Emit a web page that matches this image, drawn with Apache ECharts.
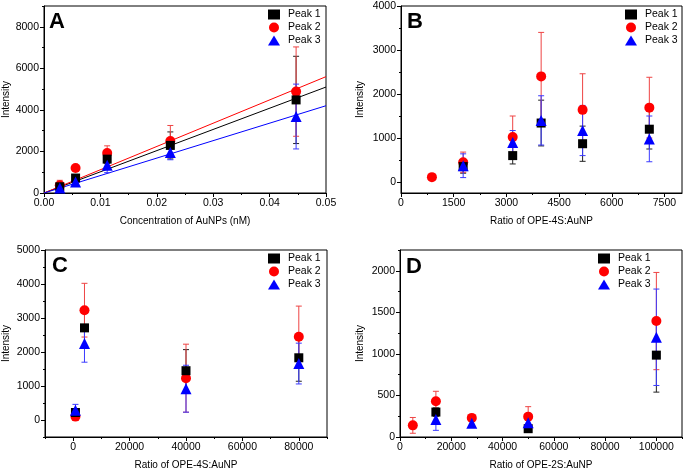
<!DOCTYPE html>
<html>
<head>
<meta charset="utf-8">
<script src="https://cdn.jsdelivr.net/npm/echarts@6/dist/echarts.min.js"></script>
<style>
html,body{margin:0;padding:0;background:#fff;}
#chart{width:685px;height:471px;}
</style>
</head>
<body>
<div id="chart"></div>
<script>
// ---------- DATA ----------
const peakNames = ['Peak 1', 'Peak 2', 'Peak 3'];

// Panel A: concentration of AuNPs (nM)
const aConc = [0.0028, 0.0056, 0.0112, 0.0224, 0.0447];
const aPeak1 = [300, 720, 1630, 2290, 4480];
const aPeak1Err = [150, 100, 220, 650, 2100];
const aPeak2 = [370, 1200, 1920, 2500, 4880];
const aPeak2Err = [240, 80, 350, 750, 2150];
const aPeak3 = [240, 530, 1330, 1950, 3680];
const aPeak3Err = [120, 130, 350, 350, 1560];
const aFitX = [0, 0.05];
const aFit1 = [0, 5100];
const aFit2 = [0, 5600];
const aFit3 = [0, 4200];

// Panel B: ratio of OPE-4S:AuNP (low range)
const bRatio = [880, 1770, 3180, 3990, 5170, 7070];
const bPeak1 = [null, 350, 600, 1340, 870, 1200];
const bPeak1Err = [null, 150, 190, 520, 400, 450];
const bPeak2 = [110, 450, 1020, 2400, 1640, 1690];
const bPeak2Err = [0, 230, 480, 1000, 820, 690];
const bPeak3 = [null, 370, 900, 1400, 1170, 980];
const bPeak3Err = [null, 270, 270, 560, 570, 520];

// Panel C: ratio of OPE-4S:AuNP (high range)
const cRatio = [800, 4000, 40000, 80000];
const cPeak1 = [220, 2710, 1450, 1830];
const cPeak1Err = [100, 580, 620, 690];
const cPeak2 = [100, 3230, 1230, 2450];
const cPeak2Err = [60, 790, 1000, 900];
const cPeak3 = [290, 2250, 920, 1660];
const cPeak3Err = [170, 550, 690, 600];

// Panel D: ratio of OPE-2S:AuNP
const dRatio = [5000, 14000, 28000, 50000, 100000];
const dPeak1 = [null, 300, null, 100, 985];
const dPeak1Err = [null, 50, null, 40, 445];
const dPeak2 = [140, 430, 230, 245, 1395];
const dPeak2Err = [95, 120, 20, 120, 585];
const dPeak3 = [null, 210, 165, 170, 1200];
const dPeak3Err = [null, 130, 50, 70, 580];

// Tick labels
const aXLabels = [0, 0.01, 0.02, 0.03, 0.04, 0.05];
const aYLabels = [0, 2000, 4000, 6000, 8000];
const bXLabels = [0, 1500, 3000, 4500, 6000, 7500];
const bYLabels = [0, 1000, 2000, 3000, 4000];
const cXLabels = [0, 20000, 40000, 60000, 80000];
const cYLabels = [0, 1000, 2000, 3000, 4000, 5000];
const dXLabels = [0, 20000, 40000, 60000, 80000, 100000];
const dYLabels = [0, 500, 1000, 1500, 2000];

// ---------- STYLE / HELPERS ----------
const FONT = 'Liberation Sans, Arial, sans-serif';
const colors = ['#000000', '#ff0000', '#0000ff'];
const errColors = ['#222222', '#ee4444', '#3a3aff'];
const symbols = ['rect', 'circle', 'triangle'];
const symSizes = [9, 10, 11];
const zOrder = [4, 3, 5];

function minorsOf(min, max, step) {
  const out = [];
  const start = Math.ceil(min / step - 1e-9);
  for (let k = start; k * step <= max + 1e-9; k++) out.push(+(k * step).toFixed(6));
  return out;
}

function makeAxes(dim, gridIndex, min, max, labels, minorStep, name, nameGap, fmt) {
  const main = {
    type: 'value', gridIndex, min, max,
    position: dim === 'x' ? 'bottom' : 'left',
    name, nameLocation: 'middle', nameGap,
    nameTextStyle: {fontFamily: FONT, fontSize: 10, color: '#000'},
    axisLine: {show: true, onZero: false, lineStyle: {color: '#000', width: 1}},
    axisTick: {show: true, length: 4, customValues: labels, lineStyle: {color: '#000'}},
    axisLabel: {show: true, customValues: labels, margin: 5, fontFamily: FONT, fontSize: 10.5, color: '#000',
      formatter: fmt || (v => String(v))},
    splitLine: {show: false}
  };
  const minor = {
    type: 'value', gridIndex, min, max,
    position: dim === 'x' ? 'bottom' : 'left',
    axisLine: {show: false, onZero: false},
    axisTick: {show: true, length: 2, customValues: minorsOf(min, max, minorStep), lineStyle: {color: '#000'}},
    axisLabel: {show: false},
    splitLine: {show: false}
  };
  return [main, minor];
}

function zip(xs, ys) {
  const out = [];
  xs.forEach((x, i) => { if (ys[i] !== null && ys[i] !== undefined) out.push([x, ys[i]]); });
  return out;
}
function zip3(xs, ys, es) {
  const out = [];
  xs.forEach((x, i) => { if (ys[i] !== null && es[i] !== null && es[i] > 0) out.push([x, ys[i], es[i]]); });
  return out;
}

function errRender(params, api) {
  const x = api.value(0), y = api.value(1), e = api.value(2);
  const hi = api.coord([x, y + e]);
  const lo = api.coord([x, y - e]);
  const w = 3;
  const style = {stroke: api.visual('color'), lineWidth: 1};
  return {
    type: 'group',
    children: [
      {type: 'line', shape: {x1: hi[0], y1: hi[1], x2: lo[0], y2: lo[1]}, style},
      {type: 'line', shape: {x1: hi[0] - w, y1: hi[1], x2: hi[0] + w, y2: hi[1]}, style},
      {type: 'line', shape: {x1: lo[0] - w, y1: lo[1], x2: lo[0] + w, y2: lo[1]}, style}
    ]
  };
}

const xAxes = [], yAxes = [], series = [];

function addPanel(p, xs, ys, errs) {
  const xi = 2 * p, yi = 2 * p;
  for (let s = 0; s < 3; s++) {
    series.push({
      type: 'custom', name: 'err' + p + s, xAxisIndex: xi, yAxisIndex: yi,
      renderItem: errRender, encode: {x: 0, y: 1},
      itemStyle: {color: errColors[s]}, z: 2, silent: true,
      data: zip3(xs, ys[s], errs[s])
    });
  }
  for (let s = 0; s < 3; s++) {
    series.push({
      type: 'scatter', name: peakNames[s], xAxisIndex: xi, yAxisIndex: yi,
      symbol: symbols[s], symbolSize: symSizes[s],
      itemStyle: {color: colors[s], opacity: 1}, z: zOrder[s],
      data: zip(xs, ys[s])
    });
  }
}

// Grids
const grids = [
  {left: 44, top: 6, width: 282, height: 187},
  {left: 401, top: 6, width: 281, height: 187},
  {left: 45, top: 250, width: 282, height: 188},
  {left: 400, top: 250, width: 282, height: 188}
].map(g => Object.assign(g, {show: true, borderColor: '#000', borderWidth: 1, backgroundColor: 'transparent'}));

// Axes
xAxes.push(...makeAxes('x', 0, 0, 0.05, aXLabels, 0.005, 'Concentration of AuNPs (nM)', 23, v => v.toFixed(2)));
yAxes.push(...makeAxes('y', 0, 0, 9000, aYLabels, 1000, 'Intensity', 33));
xAxes.push(...makeAxes('x', 1, 0, 8000, bXLabels, 750, 'Ratio of OPE-4S:AuNP', 23));
yAxes.push(...makeAxes('y', 1, -250, 4000, bYLabels, 500, 'Intensity', 36));
xAxes.push(...makeAxes('x', 2, -10000, 90000, cXLabels, 10000, 'Ratio of OPE-4S:AuNP', 23));
yAxes.push(...makeAxes('y', 2, -500, 5000, cYLabels, 500, 'Intensity', 34));
xAxes.push(...makeAxes('x', 3, 0, 110000, dXLabels, 10000, 'Ratio of OPE-2S:AuNP', 23));
yAxes.push(...makeAxes('y', 3, 0, 2250, dYLabels, 250, 'Intensity', 35));

// Fit lines (panel A)
[aFit1, aFit2, aFit3].forEach((fy, s) => {
  series.push({
    type: 'line', name: 'fit' + s, xAxisIndex: 0, yAxisIndex: 0,
    data: zip(aFitX, fy), showSymbol: false, symbol: 'none',
    lineStyle: {color: colors[s], width: 1}, z: 1, silent: true
  });
});

addPanel(0, aConc, [aPeak1, aPeak2, aPeak3], [aPeak1Err, aPeak2Err, aPeak3Err]);
addPanel(1, bRatio, [bPeak1, bPeak2, bPeak3], [bPeak1Err, bPeak2Err, bPeak3Err]);
addPanel(2, cRatio, [cPeak1, cPeak2, cPeak3], [cPeak1Err, cPeak2Err, cPeak3Err]);
addPanel(3, dRatio, [dPeak1, dPeak2, dPeak3], [dPeak1Err, dPeak2Err, dPeak3Err]);

function legendAt(left, top) {
  return {
    show: true, orient: 'vertical', left, top,
    data: peakNames, itemWidth: 12, itemHeight: 10, itemGap: 2, padding: 0,
    selectedMode: false,
    textStyle: {fontFamily: FONT, fontSize: 10.5, color: '#000', lineHeight: 11, padding: [0, 0, 0, 3]}
  };
}

const letters = [
  ['A', 49, 11], ['B', 407, 11], ['C', 52, 255], ['D', 406, 256]
].map(([t, x, y]) => ({
  type: 'text', left: x, top: y, z: 10,
  style: {text: t, font: 'bold 22px ' + FONT, fill: '#000'}
}));

const chart = echarts.init(document.getElementById('chart'), null, {renderer: 'canvas'});
chart.setOption({
  backgroundColor: '#fff',
  animation: false,
  grid: grids,
  xAxis: xAxes,
  yAxis: yAxes,
  legend: [legendAt(268, 9), legendAt(625, 9), legendAt(268, 253), legendAt(598, 253)],
  graphic: letters,
  series
});
</script>
</body>
</html>
